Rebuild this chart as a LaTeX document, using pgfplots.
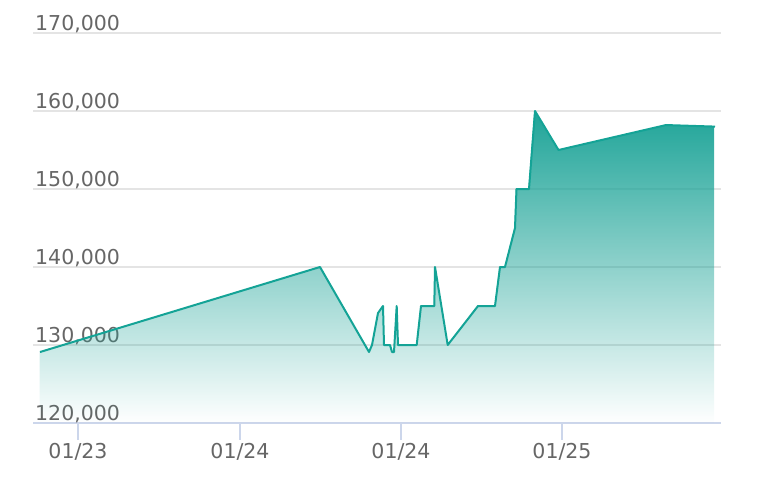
\documentclass[border=0pt]{standalone}
\usepackage{fontspec}
\setmainfont{DejaVu Sans}
\usepackage{pgfplots}
\usepackage{pgfplotstable}
\usetikzlibrary{fadings}
\pgfplotsset{compat=1.18}
\definecolor{linec}{RGB}{20,163,150}
\definecolor{fillc}{RGB}{30,164,152}
\definecolor{gridc}{RGB}{228,228,228}
\definecolor{axisc}{RGB}{204,214,235}
\definecolor{labc}{RGB}{102,102,102}

\pgfplotstableread{
x y
40 129100
320 140000
369 129100
372 130000
378 134100
383 135000
384 130000
390 130000
392 129100
394 129100
396.7 135000
398 130000
416.7 130000
421 135000
434.3 135000
435 140000
447.7 130000
478 135000
495 135000
500 140000
505 140000
515 145000
516.5 150000
529 150000
535 160000
558.5 155000
666 158200
715 158000
}\data

\pgfplotstableread{
x y
40 120000
40 129100
320 140000
369 129100
372 130000
378 134100
383 135000
384 130000
390 130000
392 129100
394 129100
396.7 135000
398 130000
416.7 130000
421 135000
434.3 135000
435 140000
447.7 130000
478 135000
495 135000
500 140000
505 140000
515 145000
516.5 150000
529 150000
535 160000
558.5 155000
666 158200
715 158000
715 120000
}\areadata

\begin{document}
\begin{tikzpicture}
\useasboundingbox (-33bp,-71bp) rectangle (725bp,423bp);
\begin{axis}[
  at={(0,0)}, anchor=south west,
  scale only axis, width=688bp, height=390bp,
  xmin=33, xmax=721, ymin=120000, ymax=170000,
  axis lines*=left,
  x axis line style={draw=axisc, line width=1.5bp},
  y axis line style={draw=none},
  ymajorgrids, grid style={draw=gridc, line width=1.2bp},
  ytick={120000,130000,...,170000},
  scaled y ticks=false,
  xtick={78,240,401,562},
  xticklabels={01/23,01/24,01/24,01/25},
  tick align=outside,
  major tick length=17bp,
  xtick style={draw=axisc, line width=1.2bp},
  ytick style={draw=none},
  tick label style={font=\fontsize{20.5bp}{24bp}\selectfont, text=labc},
  yticklabel style={anchor=base west, inner sep=0pt, xshift=19bp, yshift=3bp,
    /pgf/number format/.cd, fixed, 1000 sep={,}, assume math mode=true},
  xticklabel style={anchor=north, inner sep=0pt, yshift=-3bp},
  clip=false,
]
\addplot[draw=none, fill=fillc, path fading=south] table[x=x,y=y]{\areadata} -- cycle;
\addplot[linec, line width=2bp, mark=none, line join=round] table[x=x,y=y]{\data};
\end{axis}
\end{tikzpicture}
\end{document}
